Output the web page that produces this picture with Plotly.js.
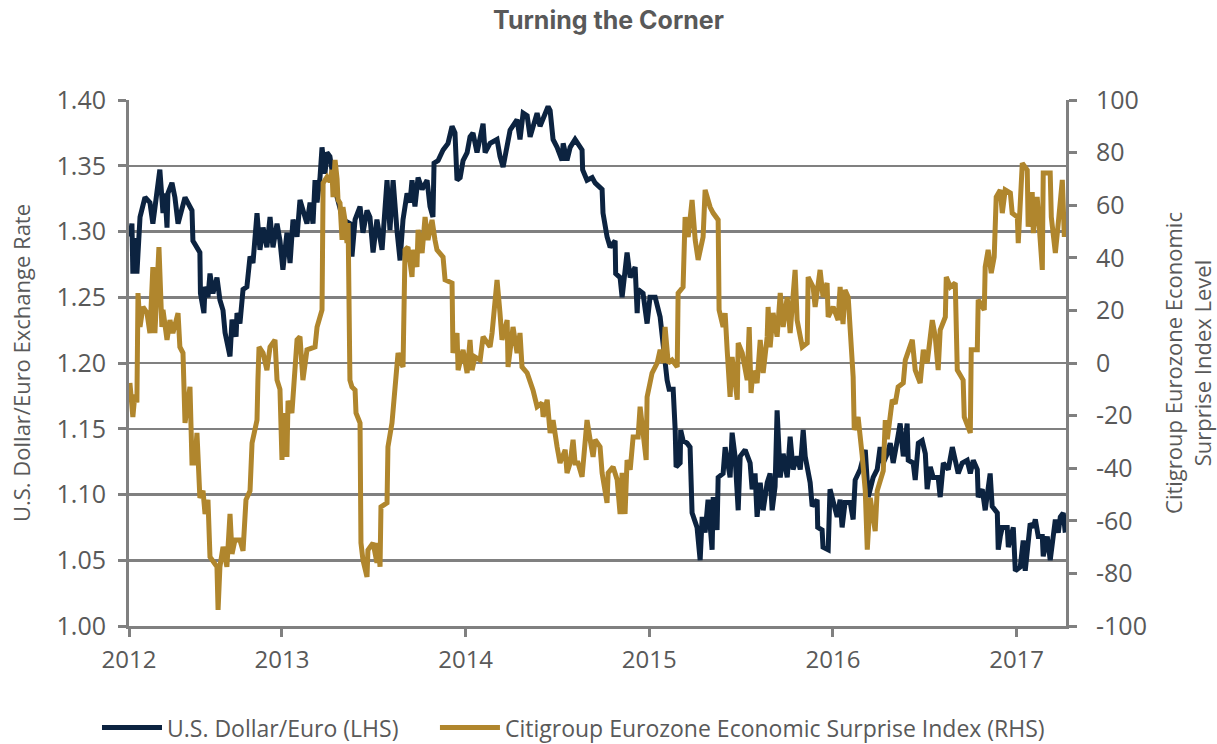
<!DOCTYPE html>
<html>
<head>
<meta charset="utf-8">
<script src="https://cdn.plot.ly/plotly-3.0.1.min.js"></script>
<style>html,body{margin:0;padding:0;background:#fff;}#chart{width:1217px;height:744px;}</style>
</head>
<body>
<div id="chart"></div>
<script>
// Time expressed as decimal years
const usdYears = [2012.172,2012.183,2012.188,2012.199,2012.210,2012.227,2012.254,2012.281,2012.297,2012.319,2012.335,2012.352,2012.363,2012.374,2012.379,2012.401,2012.417,2012.434,2012.455,2012.472,2012.510,2012.515,2012.553,2012.556,2012.575,2012.581,2012.597,2012.608,2012.624,2012.646,2012.662,2012.679,2012.690,2012.717,2012.728,2012.750,2012.755,2012.771,2012.788,2012.809,2012.826,2012.842,2012.864,2012.880,2012.897,2012.918,2012.935,2012.951,2012.973,2012.989,2013.005,2013.027,2013.044,2013.060,2013.082,2013.098,2013.136,2013.153,2013.169,2013.180,2013.191,2013.207,2013.218,2013.234,2013.245,2013.261,2013.272,2013.300,2013.332,2013.370,2013.381,2013.398,2013.425,2013.441,2013.463,2013.479,2013.496,2013.517,2013.545,2013.572,2013.588,2013.605,2013.626,2013.643,2013.659,2013.681,2013.697,2013.708,2013.724,2013.741,2013.763,2013.790,2013.806,2013.822,2013.828,2013.850,2013.877,2013.904,2013.926,2013.942,2013.953,2013.970,2013.986,2014.008,2014.024,2014.040,2014.062,2014.095,2014.106,2014.133,2014.171,2014.187,2014.204,2014.226,2014.242,2014.280,2014.296,2014.313,2014.335,2014.351,2014.389,2014.405,2014.449,2014.460,2014.476,2014.498,2014.525,2014.531,2014.552,2014.569,2014.596,2014.634,2014.637,2014.661,2014.689,2014.705,2014.743,2014.748,2014.770,2014.787,2014.814,2014.817,2014.841,2014.852,2014.879,2014.896,2014.923,2014.934,2014.939,2014.966,2014.988,2015.004,2015.032,2015.059,2015.070,2015.086,2015.097,2015.108,2015.130,2015.141,2015.146,2015.168,2015.171,2015.184,2015.206,2015.222,2015.233,2015.260,2015.277,2015.288,2015.304,2015.320,2015.342,2015.348,2015.369,2015.375,2015.402,2015.413,2015.440,2015.451,2015.467,2015.484,2015.495,2015.522,2015.549,2015.560,2015.576,2015.587,2015.604,2015.620,2015.642,2015.658,2015.669,2015.685,2015.696,2015.713,2015.729,2015.751,2015.767,2015.783,2015.805,2015.822,2015.838,2015.849,2015.876,2015.887,2015.914,2015.917,2015.941,2015.946,2015.974,2015.984,2016.001,2016.023,2016.039,2016.050,2016.066,2016.094,2016.110,2016.121,2016.148,2016.176,2016.192,2016.219,2016.241,2016.257,2016.274,2016.296,2016.312,2016.328,2016.350,2016.366,2016.383,2016.404,2016.410,2016.437,2016.448,2016.465,2016.486,2016.503,2016.513,2016.530,2016.546,2016.573,2016.584,2016.601,2016.628,2016.650,2016.666,2016.682,2016.704,2016.731,2016.748,2016.764,2016.786,2016.791,2016.813,2016.829,2016.856,2016.867,2016.895,2016.900,2016.911,2016.922,2016.949,2016.955,2016.982,2016.993,2017.020,2017.036,2017.047,2017.063,2017.074,2017.091,2017.102,2017.118,2017.140,2017.145,2017.167,2017.183,2017.200,2017.211,2017.227,2017.238,2017.254,2017.265];
const usdEur = [1.296,1.306,1.268,1.295,1.268,1.311,1.326,1.322,1.306,1.329,1.347,1.314,1.329,1.303,1.329,1.337,1.326,1.306,1.319,1.326,1.316,1.293,1.284,1.253,1.238,1.258,1.250,1.268,1.253,1.265,1.248,1.240,1.223,1.205,1.233,1.220,1.238,1.230,1.256,1.258,1.281,1.276,1.314,1.286,1.303,1.288,1.311,1.288,1.306,1.293,1.271,1.299,1.276,1.309,1.296,1.324,1.306,1.322,1.306,1.339,1.322,1.341,1.364,1.344,1.360,1.357,1.347,1.326,1.309,1.306,1.281,1.309,1.319,1.299,1.316,1.311,1.284,1.309,1.286,1.339,1.301,1.339,1.301,1.278,1.309,1.329,1.322,1.339,1.319,1.341,1.332,1.339,1.319,1.311,1.352,1.354,1.362,1.367,1.380,1.375,1.339,1.341,1.354,1.360,1.372,1.375,1.360,1.382,1.360,1.367,1.370,1.357,1.349,1.364,1.377,1.385,1.370,1.390,1.388,1.372,1.390,1.380,1.395,1.392,1.370,1.364,1.354,1.367,1.354,1.364,1.370,1.362,1.347,1.339,1.341,1.337,1.332,1.314,1.296,1.288,1.293,1.268,1.265,1.250,1.284,1.265,1.273,1.238,1.256,1.253,1.230,1.250,1.250,1.235,1.220,1.205,1.187,1.180,1.180,1.149,1.121,1.124,1.149,1.141,1.139,1.136,1.086,1.075,1.050,1.083,1.071,1.096,1.058,1.098,1.073,1.113,1.116,1.136,1.113,1.147,1.129,1.088,1.129,1.134,1.124,1.104,1.116,1.083,1.109,1.088,1.109,1.116,1.088,1.106,1.164,1.113,1.131,1.113,1.144,1.119,1.129,1.119,1.149,1.129,1.109,1.091,1.096,1.075,1.073,1.060,1.058,1.104,1.096,1.083,1.096,1.075,1.094,1.094,1.081,1.111,1.119,1.134,1.098,1.113,1.119,1.136,1.124,1.131,1.139,1.124,1.141,1.154,1.129,1.154,1.126,1.124,1.111,1.139,1.141,1.131,1.104,1.121,1.113,1.113,1.098,1.124,1.119,1.136,1.126,1.116,1.124,1.126,1.116,1.126,1.119,1.098,1.104,1.088,1.116,1.091,1.086,1.058,1.068,1.075,1.075,1.060,1.075,1.042,1.045,1.065,1.042,1.065,1.078,1.075,1.081,1.068,1.068,1.053,1.068,1.050,1.068,1.081,1.071,1.083,1.086,1.071];

const cesiYears = [2012.172,2012.188,2012.199,2012.210,2012.216,2012.227,2012.243,2012.265,2012.281,2012.297,2012.308,2012.330,2012.346,2012.352,2012.374,2012.390,2012.406,2012.434,2012.444,2012.461,2012.472,2012.499,2012.510,2012.526,2012.537,2012.553,2012.570,2012.581,2012.597,2012.608,2012.646,2012.652,2012.662,2012.679,2012.700,2012.717,2012.728,2012.744,2012.771,2012.788,2012.804,2012.826,2012.837,2012.864,2012.869,2012.875,2012.897,2012.918,2012.935,2012.962,2012.973,2012.989,2013.000,2013.005,2013.027,2013.033,2013.054,2013.071,2013.082,2013.098,2013.114,2013.136,2013.180,2013.191,2013.218,2013.224,2013.245,2013.261,2013.272,2013.278,2013.289,2013.300,2013.305,2013.316,2013.327,2013.332,2013.343,2013.354,2013.360,2013.370,2013.381,2013.398,2013.403,2013.425,2013.430,2013.441,2013.463,2013.468,2013.496,2013.517,2013.523,2013.534,2013.539,2013.572,2013.577,2013.599,2013.616,2013.632,2013.643,2013.659,2013.670,2013.686,2013.708,2013.714,2013.735,2013.741,2013.763,2013.779,2013.795,2013.817,2013.833,2013.844,2013.877,2013.888,2013.926,2013.931,2013.953,2013.959,2013.986,2014.008,2014.024,2014.035,2014.051,2014.079,2014.095,2014.133,2014.144,2014.171,2014.187,2014.198,2014.226,2014.231,2014.258,2014.280,2014.296,2014.307,2014.335,2014.351,2014.367,2014.389,2014.416,2014.422,2014.444,2014.460,2014.476,2014.498,2014.514,2014.542,2014.552,2014.569,2014.585,2014.596,2014.612,2014.634,2014.661,2014.678,2014.694,2014.705,2014.732,2014.743,2014.770,2014.776,2014.803,2014.825,2014.841,2014.852,2014.868,2014.879,2014.896,2014.912,2014.939,2014.950,2014.983,2014.988,2015.015,2015.043,2015.059,2015.075,2015.086,2015.103,2015.124,2015.152,2015.157,2015.184,2015.195,2015.212,2015.233,2015.250,2015.266,2015.293,2015.304,2015.331,2015.348,2015.375,2015.380,2015.402,2015.413,2015.424,2015.440,2015.451,2015.479,2015.484,2015.506,2015.533,2015.544,2015.554,2015.565,2015.587,2015.604,2015.620,2015.642,2015.647,2015.658,2015.674,2015.696,2015.713,2015.729,2015.751,2015.767,2015.794,2015.805,2015.833,2015.860,2015.865,2015.892,2015.903,2015.930,2015.946,2015.968,2015.974,2016.001,2016.028,2016.039,2016.055,2016.066,2016.083,2016.110,2016.116,2016.137,2016.159,2016.176,2016.187,2016.203,2016.230,2016.241,2016.274,2016.285,2016.296,2016.323,2016.339,2016.355,2016.383,2016.394,2016.432,2016.448,2016.475,2016.492,2016.513,2016.541,2016.557,2016.573,2016.584,2016.612,2016.617,2016.639,2016.666,2016.677,2016.709,2016.715,2016.748,2016.753,2016.786,2016.791,2016.824,2016.829,2016.845,2016.862,2016.878,2016.889,2016.911,2016.922,2016.938,2016.966,2016.976,2017.004,2017.009,2017.031,2017.058,2017.063,2017.085,2017.091,2017.112,2017.129,2017.140,2017.145,2017.183,2017.189,2017.211,2017.227,2017.249,2017.260];
const cesi = [-7.6,-20.5,-12,-15,26.6,13.7,21.3,19,11.4,36.5,11.4,44.1,13.7,20.2,8.8,16.3,11.4,19,6.1,3.8,-22.8,-9.1,-38,-38,-26.6,-51.3,-48.6,-57.4,-52,-73.7,-77.5,-93.9,-77.5,-69.9,-77.5,-57.4,-72.6,-67.3,-67.3,-71.4,-52,-48.6,-30.4,-21.7,-6.5,6.1,3.8,-2.7,6.1,8.8,-6.5,-10,-36.9,-19,-35.7,-14.4,-19,-2,8.8,10,-6.5,5,6.1,13.7,20.2,68.4,70.7,69,73.4,63.1,77.2,70,62,60.8,46.8,59.3,54.4,45.6,53.2,-6.5,-9.1,-10.3,-19,-22.8,-68.4,-74.9,-81.3,-71.1,-68.4,-76,-68.4,-77.5,-54.7,-53.2,-31.9,-22.8,-6.5,3.8,1.1,-1.5,43,44.1,32.7,43,36.5,50.6,41.8,55.5,46.8,54.4,46.8,43,40.3,31.6,30.4,3.8,11.4,-2.7,5,-3.8,8.8,-2.7,2.3,1.1,10,6.1,11.4,31.6,19,8.8,16.3,-1.5,13.7,3.8,11.4,-1.5,-3.8,-6.5,-10.3,-16.6,-15.2,-20.5,-14,-26.6,-21.7,-31.9,-38,-33,-41.8,-38,-29.2,-38,-38,-43.3,-21.7,-29.2,-35.7,-29.2,-31.9,-41.8,-53.2,-41.8,-39.5,-44.4,-57.4,-41.8,-57.4,-36.9,-40.6,-28.1,-28.1,-16.6,-36.9,-12.9,-3.8,0,5,0,13.7,0,1.1,-1.5,26.6,28.9,55.5,47.9,62,46.8,39.2,47.9,65.8,59.3,57,54.4,20.2,13.7,19,5,-12.9,2.3,-14,7.6,3.8,-6.5,13.7,-11.4,-3,-7.6,8.8,-3.8,10,21.3,6,19,10,26.6,13.7,25.1,11.4,35.4,16.3,6.1,7.6,32.7,28.9,21.3,35.4,25.1,30.4,17.5,21.3,16.3,28.9,14.8,27.8,25.1,-5.3,-25.5,-20.5,-35,-48.6,-71,-51.3,-63.9,-48.6,-41,-21.7,-29,-14,-15.5,-9.1,-7.6,1.1,8.8,-2.7,-7.6,5,0,16.3,10,-2.7,12.5,17.5,32.7,28.9,30.4,-2.7,-6.5,-20.5,-26.6,5,5,24,20.2,36.5,43,34.2,40.3,63.1,65.8,57,65.8,64.6,57,55.5,45.6,76,73.4,51.8,65,49.4,63.1,47.9,35.4,72.2,72.2,55.5,41.8,53.2,69.6,47.9];

const yearTickVals = [2012.167, 2013, 2014, 2015, 2016, 2017];
const yearTickText = ['2012', '2013', '2014', '2015', '2016', '2017'];
const cesiTickVals = [-100, -80, -60, -40, -20, 0, 20, 40, 60, 80, 100];
const cesiTickText = ['-100', '-80', '-60', '-40', '-20', '0', '20', '40', '60', '80', '100'];

const seriesNames = ['U.S. Dollar/Euro (LHS)', 'Citigroup Eurozone Economic Surprise Index (RHS)'];

const FONT = 'Open Sans, Arial, sans-serif';
const TXT = '#595959';
const GRID = '#808080';

const traces = [
  {x: usdYears, y: usdEur, name: seriesNames[0], type: 'scatter', mode: 'lines',
   line: {color: '#0c2340', width: 5}, yaxis: 'y', legend: 'legend'},
  {x: cesiYears, y: cesi, name: seriesNames[1], type: 'scatter', mode: 'lines',
   line: {color: '#b0862d', width: 5}, yaxis: 'y2', legend: 'legend2'}
];

const legendBase = {orientation: 'h', xref: 'container', yref: 'container', xanchor: 'left',
                    y: 0.022, yanchor: 'middle', bgcolor: 'rgba(0,0,0,0)',
                    font: {size: 23, color: TXT, family: FONT}, itemwidth: 60};

const layout = {
  width: 1217, height: 744,
  margin: {l: 129, r: 151, t: 100, b: 118},
  paper_bgcolor: '#ffffff', plot_bgcolor: '#ffffff',
  font: {family: FONT, color: TXT},
  title: {text: '<b>Turning the Corner</b>', font: {size: 25, color: TXT, family: 'Inter, Open Sans, sans-serif'},
          x: 0.5, xref: 'container', y: 0.973, yref: 'container', yanchor: 'middle'},
  showlegend: true,
  legend: Object.assign({}, legendBase, {x: 0.0797}),
  legend2: Object.assign({}, legendBase, {x: 0.3574}),
  xaxis: {range: [2012.167, 2017.269], tickmode: 'array', tickvals: yearTickVals, ticktext: yearTickText,
          showgrid: false, zeroline: false, showline: true, linecolor: GRID, linewidth: 3,
          ticks: 'outside', ticklen: 8, tickwidth: 3, tickcolor: GRID,
          tickfont: {size: 24, color: TXT, family: FONT}, ticklabelstandoff: 2},
  yaxis: {range: [1.0, 1.4], dtick: 0.05, tickformat: '.2f', showgrid: true, gridcolor: GRID, gridwidth: 2.5,
          zeroline: false, showline: true, linecolor: GRID, linewidth: 3,
          ticks: 'outside', ticklen: 8, tickwidth: 3, tickcolor: GRID,
          tickfont: {size: 25, color: TXT, family: FONT}, ticklabelstandoff: 7,
          title: {text: 'U.S. Dollar/Euro Exchange Rate', font: {size: 22, color: TXT, family: FONT}, standoff: 20}},
  yaxis2: {range: [-100, 100], tickmode: 'array', tickvals: cesiTickVals, ticktext: cesiTickText,
           overlaying: 'y', side: 'right', showgrid: false, zeroline: false,
           showline: true, linecolor: GRID, linewidth: 3,
           ticks: 'outside', ticklen: 8, tickwidth: 3, tickcolor: GRID,
           tickfont: {size: 25, color: TXT, family: FONT}, ticklabelstandoff: 14,
           title: {text: 'Citigroup Eurozone Economic<br>Surprise Index Level', font: {size: 22, color: TXT, family: FONT}, standoff: 22}}
};

Plotly.newPlot('chart', traces, layout, {displayModeBar: false, staticPlot: true});
</script>
</body>
</html>
